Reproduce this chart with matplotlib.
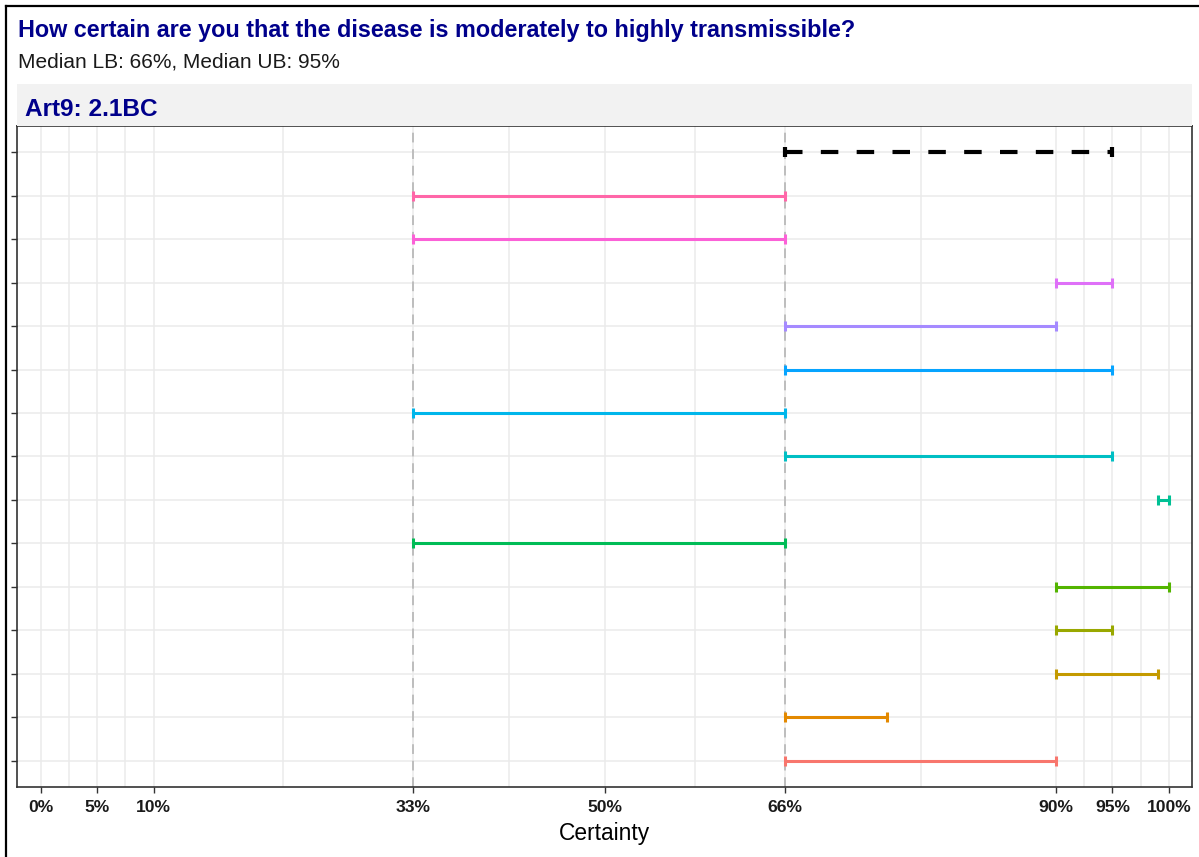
import numpy as np
import matplotlib
matplotlib.use("Agg")
import matplotlib.pyplot as plt
from matplotlib.lines import Line2D

plt.rcParams["font.family"] = ["Liberation Sans", "DejaVu Sans"]

# ── Data ────────────────────────────────────────────────────────────────
# respondents listed bottom to top
LOWER = [66, 66, 90, 90, 90, 33, 99, 66, 33, 66, 66, 90, 33, 33]
UPPER = [90, 75, 99, 95, 100, 66, 100, 95, 66, 95, 90, 95, 66, 66]
COLORS = ["#F8766D", "#E38900", "#C49A00", "#99A800", "#53B400", "#00BC56",
          "#00C094", "#00BFC4", "#00B6EB", "#06A4FF", "#A58AFF", "#DF70F8",
          "#FB61D7", "#FF66A8"]
MEDIAN_LB = 66
MEDIAN_UB = 95
REF_LINES = [33, 66]

TICKS = [0, 5, 10, 33, 50, 66, 90, 95, 100]
TICK_LABELS = ["0%", "5%", "10%", "33%", "50%", "66%", "90%", "95%", "100%"]
MINOR_TICKS = [2.5, 7.5, 21.5, 41.5, 58, 78, 92.5, 97.5]

TITLE = "How certain are you that the disease is moderately to highly transmissible?"
SUBTITLE = f"Median LB: {MEDIAN_LB}%, Median UB: {MEDIAN_UB}%"
STRIP = "Art9: 2.1BC"

NAVY = "#00008B"
GRID = "#EBEBEB"

W, H = 1199, 857
fig = plt.figure(figsize=(W / 100, H / 100), dpi=100)

# panel placement in pixels
pl, pr, pt, pb = 17, 1192, 126, 787
ax = fig.add_axes([pl / W, 1 - pb / H, (pr - pl) / W, (pb - pt) / H])

n = len(LOWER)
rows = np.arange(1, n + 2)

# grid
for v in TICKS + MINOR_TICKS:
    ax.axvline(v, color=GRID, lw=1.1, zorder=0)
for r in rows:
    ax.axhline(r, color=GRID, lw=1.1, zorder=0)
for v in REF_LINES:
    ax.axvline(v, color="#BDBDBD", lw=1.4, ls=(0, (5, 3.5)), zorder=1)

# individual intervals
for i, (lo, hi, c) in enumerate(zip(LOWER, UPPER, COLORS)):
    ax.plot([lo, hi], [rows[i], rows[i]], color=c, lw=2.2,
            marker="|", markersize=6.5, markeredgewidth=2.2, zorder=3,
            solid_capstyle="butt")

# median interval
ax.plot([MEDIAN_LB, MEDIAN_UB], [rows[-1], rows[-1]], color="black", lw=3.0,
        dashes=(4.2, 4.4), zorder=4, dash_capstyle="butt")
ax.plot([MEDIAN_LB, MEDIAN_UB], [rows[-1], rows[-1]], ls="none", color="black",
        marker="|", markersize=7, markeredgewidth=3.0, zorder=4)

ax.set_xlim(-2.1, 102.05)
ax.set_ylim(0.4, n + 1.6)
ax.set_xticks(TICKS)
ax.set_xticklabels(TICK_LABELS, fontsize=12.6, fontweight="bold", color="#1A1A1A")
ax.set_yticks(rows)
ax.set_yticklabels([])
ax.tick_params(axis="both", length=4, width=1, color="#333333", pad=5.5)
for s in ax.spines.values():
    s.set_color("#333333")
    s.set_linewidth(1.2)
ax.set_xlabel("Certainty", fontsize=16.4, labelpad=5)

# facet strip
strip = fig.add_axes([pl / W, 1 - pt / H, (pr - pl) / W, 42 / H])
strip.set_facecolor("#F2F2F2")
strip.set_xticks([])
strip.set_yticks([])
for s in strip.spines.values():
    s.set_visible(False)
strip.text(8 / (pr - pl), 0.4, STRIP, transform=strip.transAxes, fontsize=17.6,
           fontweight="bold", color=NAVY, va="center", ha="left")

# titles
fig.text(18 / W, 1 - 30 / H, TITLE, fontsize=16.8, fontweight="bold", color=NAVY,
         va="center", ha="left")
fig.text(18 / W, 1 - 62 / H, SUBTITLE, fontsize=15, color="#1A1A1A",
         va="center", ha="left")

# outer frame (left and top edges of the screenshot)
fig.add_artist(Line2D([6 / W, 6 / W], [0, 1 - 6 / H], color="black", lw=1.6,
                      transform=fig.transFigure))
fig.add_artist(Line2D([6 / W, 1], [1 - 6 / H, 1 - 6 / H], color="black", lw=1.6,
                      transform=fig.transFigure))

fig.savefig("out.png", dpi=100)
